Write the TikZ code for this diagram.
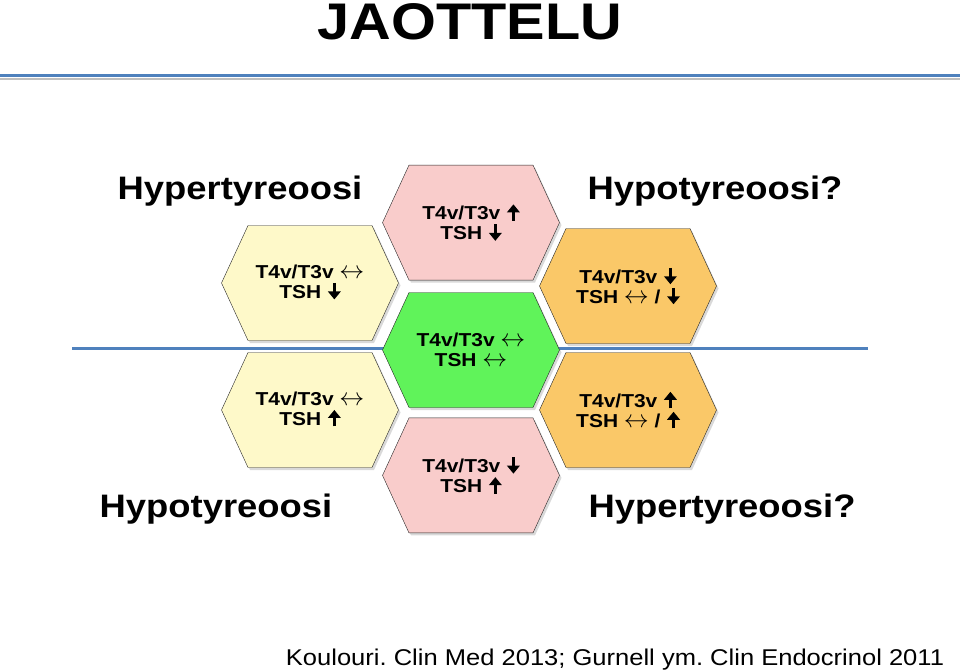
\documentclass[tikz,border=0pt]{standalone}
\usepackage{fontspec}
\setmainfont{Liberation Sans}[FakeStretch=1.12]
\usetikzlibrary{shapes.symbols, positioning, shadows, arrows.meta}
\definecolor{hexyellow}{HTML}{FEF9C9}
\definecolor{hexpink}{HTML}{F9CCCB}
\definecolor{hexgreen}{HTML}{60F35A}
\definecolor{hexorange}{HTML}{FAC868}
\definecolor{rulecol}{HTML}{4F81BD}
\newcommand{\arrup}{\kern1pt\tikz[baseline=0pt]\draw[line width=3.4pt,-{Triangle[width=12.5pt,length=8pt]}] (0pt,-1pt) -- (0pt,15.5pt);}
\newcommand{\arrdn}{\kern1pt\tikz[baseline=0pt]\draw[line width=3.4pt,-{Triangle[width=12.5pt,length=8pt]}] (0pt,15.5pt) -- (0pt,-1pt);}
\newcommand{\arrlr}{{\fontsize{23}{20}\selectfont$\leftrightarrow$}}
\frenchspacing

\begin{document}
\begin{tikzpicture}[x=1pt,y=-1pt,
 hex/.style={signal, signal to=west and east, signal pointer angle=130.5,
  draw=black!85, thin, minimum width=177pt, minimum height=115pt, inner sep=0pt,
  align=center, font=\fontsize{18.7}{20}\selectfont\bfseries,
  drop shadow={shadow xshift=2pt, shadow yshift=-2.5pt, opacity=0.3}},
 tag/.style={anchor=base, font=\fontsize{32.5}{34}\selectfont\bfseries}]
 \useasboundingbox (0,0) rectangle (960,671);

 \node[font=\fontsize{51.5}{52}\selectfont\bfseries] (title) at (470,22) {JAOTTELU};
 \coordinate (topl) at (0,76);
 \coordinate (topr) at (960,76);
 \draw[black!25, line width=2pt] ([yshift=-3pt]topl) -- ([yshift=-3pt]topr);
 \draw[rulecol, line width=3pt] (topl) -- (topr);

 \coordinate (divl) at (72,348);
 \coordinate (divr) at (868,348);
 \draw[rulecol, line width=3pt] (divl) -- (divr);

 \node[hex, fill=hexgreen] (normal) at (471,350) {T4v/T3v \arrlr\\TSH \arrlr};
 \node[hex, fill=hexpink, above=12pt of normal] (hyper) {T4v/T3v \arrup\\TSH \arrdn};
 \node[hex, fill=hexpink, below=10pt of normal] (hypo) {T4v/T3v \arrdn\\TSH \arrup};

 \node[hex, fill=hexyellow] (subhyper) at (310,283) {T4v/T3v \arrlr\\TSH \arrdn};
 \node[hex, fill=hexyellow] (subhypo) at (310,410) {T4v/T3v \arrlr\\TSH \arrup};
 \node[hex, fill=hexorange] (central) at (628,286) {T4v/T3v \arrdn\\TSH \arrlr{} / \arrdn};
 \node[hex, fill=hexorange] (resist) at (628,410) {T4v/T3v \arrup\\TSH \arrlr{} / \arrup};

 \node[tag] (hyperlbl) at (240,200) {Hypertyreoosi};
 \node[tag] (hypolbl) at (216,517) {Hypotyreoosi};
 \node[tag] (hypoq) at (715,200) {Hypotyreoosi?};
 \node[tag] (hyperq) at (722,517) {Hypertyreoosi?};

 \node[anchor=base, font=\fontsize{22.8}{24}\selectfont] (source) at (615,665)
  {Koulouri. Clin Med 2013; Gurnell ym. Clin Endocrinol 2011};
\end{tikzpicture}
\end{document}
